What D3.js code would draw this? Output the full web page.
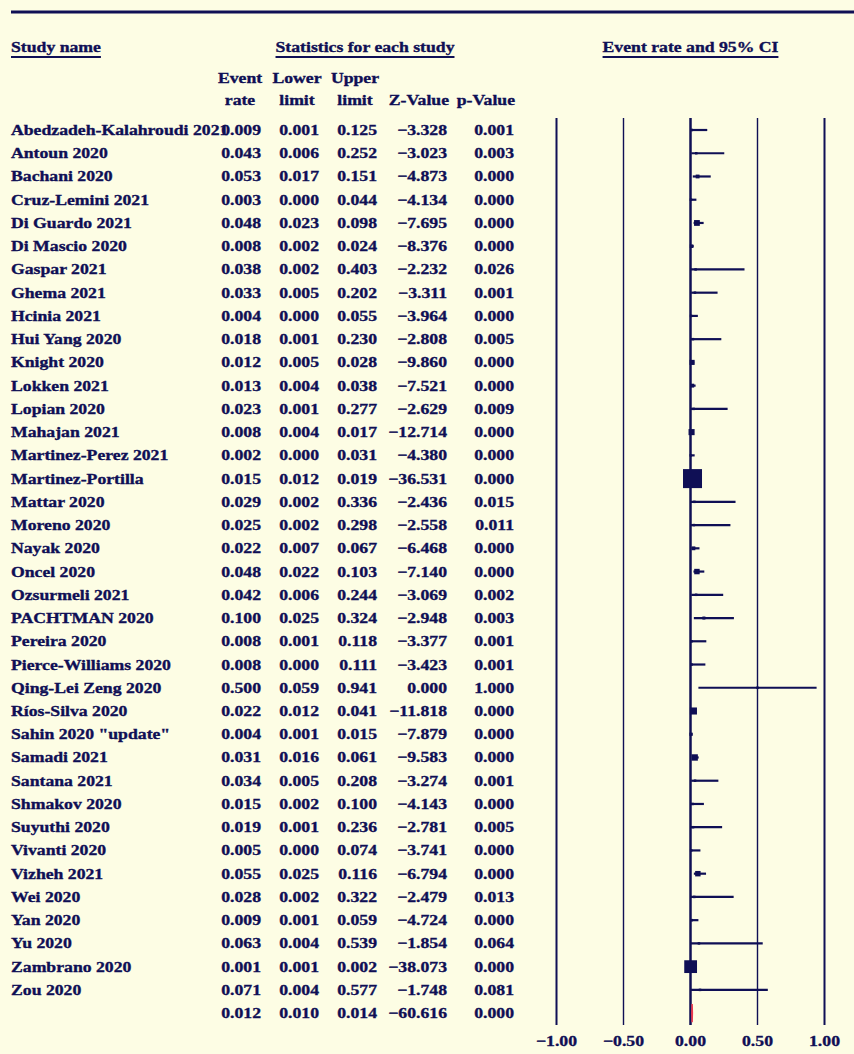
<!DOCTYPE html>
<html>
<meta charset="utf-8">
<style>
body { margin: 0; background: #fdfde4; }
svg text { font-family: "Liberation Serif", "Times New Roman", serif; font-weight: bold; font-size: 15px; fill: #0f0f55; stroke: #0f0f55; stroke-width: 0.35px; }
</style>
<body>
<svg id="chart" width="854" height="1054"></svg>
<script src="https://cdn.jsdelivr.net/npm/d3@7"></script>
<script>
var studies = ["Abedzadeh-Kalahroudi 2021", "Antoun 2020", "Bachani 2020", "Cruz-Lemini 2021",
  "Di Guardo 2021", "Di Mascio 2020", "Gaspar 2021", "Ghema 2021", "Hcinia 2021", "Hui Yang 2020",
  "Knight 2020", "Lokken 2021", "Lopian 2020", "Mahajan 2021", "Martinez-Perez 2021",
  "Martinez-Portilla", "Mattar 2020", "Moreno 2020", "Nayak 2020", "Oncel 2020", "Ozsurmeli 2021",
  "PACHTMAN 2020", "Pereira 2020", "Pierce-Williams 2020", "Qing-Lei Zeng 2020", "Ríos-Silva 2020",
  "Sahin 2020 \"update\"", "Samadi 2021", "Santana 2021", "Shmakov 2020", "Suyuthi 2020",
  "Vivanti 2020", "Vizheh 2021", "Wei 2020", "Yan 2020", "Yu 2020", "Zambrano 2020", "Zou 2020"];
var eventRate = [0.009, 0.043, 0.053, 0.003, 0.048, 0.008, 0.038, 0.033, 0.004, 0.018, 0.012, 0.013,
  0.023, 0.008, 0.002, 0.015, 0.029, 0.025, 0.022, 0.048, 0.042, 0.100, 0.008, 0.008, 0.500, 0.022,
  0.004, 0.031, 0.034, 0.015, 0.019, 0.005, 0.055, 0.028, 0.009, 0.063, 0.001, 0.071];
var lowerLimit = [0.001, 0.006, 0.017, 0.000, 0.023, 0.002, 0.002, 0.005, 0.000, 0.001, 0.005, 0.004,
  0.001, 0.004, 0.000, 0.012, 0.002, 0.002, 0.007, 0.022, 0.006, 0.025, 0.001, 0.000, 0.059, 0.012,
  0.001, 0.016, 0.005, 0.002, 0.001, 0.000, 0.025, 0.002, 0.001, 0.004, 0.001, 0.004];
var upperLimit = [0.125, 0.252, 0.151, 0.044, 0.098, 0.024, 0.403, 0.202, 0.055, 0.230, 0.028, 0.038,
  0.277, 0.017, 0.031, 0.019, 0.336, 0.298, 0.067, 0.103, 0.244, 0.324, 0.118, 0.111, 0.941, 0.041,
  0.015, 0.061, 0.208, 0.100, 0.236, 0.074, 0.116, 0.322, 0.059, 0.539, 0.002, 0.577];
var zValue = [-3.328, -3.023, -4.873, -4.134, -7.695, -8.376, -2.232, -3.311, -3.964, -2.808, -9.860,
  -7.521, -2.629, -12.714, -4.380, -36.531, -2.436, -2.558, -6.468, -7.140, -3.069, -2.948, -3.377,
  -3.423, 0.000, -11.818, -7.879, -9.583, -3.274, -4.143, -2.781, -3.741, -6.794, -2.479, -4.724,
  -1.854, -38.073, -1.748];
var pValue = [0.001, 0.003, 0.000, 0.000, 0.000, 0.000, 0.026, 0.001, 0.000, 0.005, 0.000, 0.000,
  0.009, 0.000, 0.000, 0.000, 0.015, 0.011, 0.000, 0.000, 0.002, 0.003, 0.001, 0.001, 1.000, 0.000,
  0.000, 0.000, 0.001, 0.000, 0.005, 0.000, 0.000, 0.013, 0.000, 0.064, 0.000, 0.081];
// pooled estimate
var summary = { rate: 0.012, lower: 0.010, upper: 0.014, z: -60.616, p: 0.000 };
var axisTicks = [-1, -0.5, 0, 0.5, 1];

var ink = "#0f0f55";
var SX = 1.18; // the source font is drawn wider than normal
var svg = d3.select("#chart");

function txt(x, y, s, anchor) {
  return svg.append("text")
    .attr("transform", "translate(" + x + "," + y + ") scale(" + SX + ",1)")
    .attr("text-anchor", anchor || "start")
    .text(s);
}
function underlined(x, y, s, anchor) {
  var t = txt(x, y, s, anchor);
  var w = t.node().getComputedTextLength() * SX;
  var x0 = anchor == "middle" ? x - w / 2 : x;
  svg.append("line").attr("x1", x0).attr("x2", x0 + w).attr("y1", y + 5).attr("y2", y + 5)
    .attr("stroke", ink).attr("stroke-width", 2);
}

var x = d3.scaleLinear().domain([-1, 1]).range([556.5, 824.5]);
var rowY = d3.scaleLinear().domain([0, 1]).range([130, 153.24]);
var f3 = d3.format(".3f");

// top rule
svg.append("line").attr("x1", 11).attr("x2", 854).attr("y1", 12).attr("y2", 12)
  .attr("stroke", ink).attr("stroke-width", 3);

underlined(11, 52, "Study name");
underlined(365, 52, "Statistics for each study", "middle");
underlined(x(0), 52, "Event rate and 95% CI", "middle");

// column headers
var cols = [240, 297, 355, 447, 514];
txt(cols[0], 83, "Event", "middle"); txt(cols[0], 105, "rate", "middle");
txt(cols[1], 83, "Lower", "middle"); txt(cols[1], 105, "limit", "middle");
txt(cols[2], 83, "Upper", "middle"); txt(cols[2], 105, "limit", "middle");
txt(cols[3] + 2, 105, "Z-Value", "end");
txt(cols[4] + 1, 105, "p-Value", "end");

var numRight = [261, 319, 377, 447, 514];

// vertical grid lines
axisTicks.forEach(function (t) {
  svg.append("line").attr("x1", x(t)).attr("x2", x(t)).attr("y1", 118).attr("y2", 1025)
    .attr("stroke", ink).attr("stroke-width", t == 0 ? 2.5 : (Math.abs(t) == 1 ? 2 : 1.4));
  txt(x(t), 1046, d3.format(".2f")(t), "middle");
});

function logit(p) { return Math.log(p / (1 - p)); }
// square size from inverse variance on the logit scale
function weight(i) {
  var se = lowerLimit[i] > 0
    ? (logit(upperLimit[i]) - logit(lowerLimit[i])) / 3.92
    : (logit(upperLimit[i]) - logit(eventRate[i])) / 1.96;
  return 1 / (se * se);
}
var wMax = d3.max(studies, function (d, i) { return weight(i); });
var side = d3.scaleSqrt().domain([0, wMax]).range([0, 19]);

studies.forEach(function (name, i) {
  var y = rowY(i);
  txt(11, y + 5, name);
  [eventRate[i], lowerLimit[i], upperLimit[i], zValue[i], pValue[i]].forEach(function (v, j) {
    txt(numRight[j], y + 5, f3(v), "end");
  });
  svg.append("line").attr("x1", x(lowerLimit[i])).attr("x2", x(upperLimit[i]))
    .attr("y1", y).attr("y2", y).attr("stroke", ink).attr("stroke-width", 2.2);
  var s = Math.max(2.5, side(weight(i)));
  svg.append("rect").attr("x", x(eventRate[i]) - s / 2).attr("y", y - s / 2)
    .attr("width", s).attr("height", s).attr("fill", ink);
});

// summary row
var ys = rowY(studies.length);
[summary.rate, summary.lower, summary.upper, summary.z, summary.p].forEach(function (v, j) {
  txt(numRight[j], ys + 5, f3(v), "end");
});
svg.append("path")
  .attr("d", "M" + x(summary.lower) + "," + ys + "L" + x(summary.rate) + "," + (ys - 9) +
    "L" + x(summary.upper) + "," + ys + "L" + x(summary.rate) + "," + (ys + 9) + "Z")
  .attr("fill", "#e8364c").attr("stroke", "#e8364c").attr("stroke-width", 1.5);
</script>
</body>
</html>
